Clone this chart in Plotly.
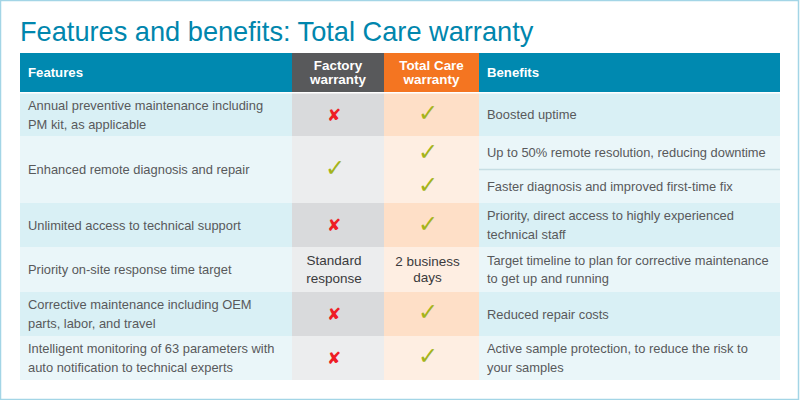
import plotly.graph_objects as go

# table content
title = "Features and benefits: Total Care warranty"
headers = ["Features", "Factory<br>warranty", "Total Care<br>warranty", "Benefits"]
features = [
    "Annual preventive maintenance including<br>PM kit, as applicable",
    "Enhanced remote diagnosis and repair",
    "Unlimited access to technical support",
    "Priority on-site response time target",
    "Corrective maintenance including OEM<br>parts, labor, and travel",
    "Intelligent monitoring of 63 parameters with<br>auto notification to technical experts",
]
factory = ["x", "check", "x", "Standard<br>response", "x", "x"]
total_care = ["check", "check", "check", "2 business<br>days", "check", "check"]
benefits = [
    "Boosted uptime",
    "Up to 50% remote resolution, reducing downtime",
    "Faster diagnosis and improved first-time fix",
    "Priority, direct access to highly experienced<br>technical staff",
    "Target timeline to plan for corrective maintenance<br>to get up and running",
    "Reduced repair costs",
    "Active sample protection, to reduce the risk to<br>your samples",
]

# layout of the table, in page pixels
col_edges = [20, 292, 384, 479, 780]
header_top, header_bottom = 53, 92
row_edges = [93.5, 136, 203, 247, 292, 336, 380]
benefit_split = 169.5
benefit_rows = [(93.5, 136), (136, 169.5), (169.5, 203), (203, 247), (247, 292), (292, 336), (336, 380)]
total_care_marks_y = [115, 154, 187, 226, 314, 358]

BLUE = "#0089B0"
SHADES = {
    "blue": ["#D9F0F5", "#EAF6F9"],
    "grey": ["#D9DADC", "#ECEDEE"],
    "orange": ["#FEDFC7", "#FEEEE2"],
}
TEXT = "#58595B"
DARK_TEXT = "#3A3A3C"
CHECK = "#A4B41C"
CROSS = "#EE1C25"
FONT = "Liberation Sans"
BODY_SIZE = 12.9
BODY_LEADING = 18.7
HEADER_LEADING = 13.6

fig = go.Figure()
shapes = []


def rect(x0, x1, y0, y1, color):
    shapes.append(dict(type="rect", x0=x0, x1=x1, y0=y0, y1=y1, fillcolor=color,
                       line=dict(width=0), layer="below"))


# header cells
for i, color in enumerate([BLUE, "#58595B", "#F47521", BLUE]):
    rect(col_edges[i], col_edges[i + 1], header_top, header_bottom, color)

# body cells, banded
for r in range(len(features)):
    shade = r % 2
    y0, y1 = row_edges[r], row_edges[r + 1]
    for c, name in enumerate(["blue", "grey", "orange", "blue"]):
        rect(col_edges[c], col_edges[c + 1], y0, y1, SHADES[name][shade])

# split between the two benefits of the second row
shapes.append(dict(type="line", x0=col_edges[3], x1=col_edges[4], y0=benefit_split, y1=benefit_split,
                   line=dict(color="#C6DEE4", width=1.5)))
# outer frame
shapes.append(dict(type="rect", x0=0.5, x1=798.5, y0=0.5, y1=399.5,
                   line=dict(color="#A3D5E6", width=1.5), layer="below"))


def add_text(x, y, text, size, color, position, family=FONT, bold=False):
    fig.add_trace(go.Scatter(
        x=x, y=y, text=text, mode="text", textposition=position,
        textfont=dict(size=size, color=color, family=family,
                      weight="bold" if bold else "normal"),
        hoverinfo="skip", showlegend=False,
    ))


def add_lines(x, mid, text, size, color, position, leading, bold=False):
    # plotly's own <br> spacing is too tight here, so each line gets its own point
    lines = text.split("<br>")
    top = mid - leading * (len(lines) - 1) / 2
    add_text([x] * len(lines), [top + i * leading for i in range(len(lines))], lines,
             size, color, position, bold=bold)


row_mid = [(row_edges[i] + row_edges[i + 1]) / 2 for i in range(len(features))]
header_mid = (header_top + header_bottom) / 2 + 1
col_mid = [(col_edges[i] + col_edges[i + 1]) / 2 for i in range(4)]
text_left = col_edges[0] + 8
benefit_left = col_edges[3] + 8

add_lines(text_left, header_mid, headers[0], 13.2, "white", "middle right", HEADER_LEADING, bold=True)
add_lines(benefit_left, header_mid, headers[3], 13.2, "white", "middle right", HEADER_LEADING, bold=True)
add_lines(col_mid[1], header_mid, headers[1], 13.4, "white", "middle center", HEADER_LEADING, bold=True)
add_lines(col_mid[2], header_mid, headers[2], 13.4, "white", "middle center", HEADER_LEADING, bold=True)

for r, text in enumerate(features):
    add_lines(text_left, row_mid[r] + 1.3, text, BODY_SIZE, TEXT, "middle right", BODY_LEADING)
for (y0, y1), text in zip(benefit_rows, benefits):
    add_lines(benefit_left, (y0 + y1) / 2 + 1.3, text, BODY_SIZE, TEXT, "middle right", BODY_LEADING)

# factory column
for r, value in enumerate(factory):
    if value == "x":
        add_text([col_mid[1] - 4], [row_mid[r] + 2], ["✘"], 17, CROSS, "middle center", family="DejaVu Sans")
    elif value == "check":
        add_text([col_mid[1] - 3], [row_mid[r]], ["✓"], 24, CHECK, "middle center", family="DejaVu Sans")
    else:
        add_lines(col_mid[1] - 4, row_mid[r] + 1, value, 13.5, DARK_TEXT, "middle center", BODY_LEADING)

# total care column, second row holds two ticks
add_text([col_mid[2] - 3.5] * 6, total_care_marks_y, ["✓"] * 6, 24, CHECK,
         "middle center", family="DejaVu Sans")
add_lines(col_mid[2] - 4, row_mid[3] + 1, total_care[3], 13.5, DARK_TEXT, "middle center", 16.5)

fig.update_layout(
    title=dict(text=title, x=20 / 800, xanchor="left", y=1 - 31 / 400, yanchor="middle",
               font=dict(size=27.2, color="#0086AD", family=FONT)),
    width=800, height=400,
    margin=dict(l=0, r=0, t=0, b=0),
    paper_bgcolor="white", plot_bgcolor="white",
    xaxis=dict(range=[0, 800], visible=False, fixedrange=True),
    yaxis=dict(range=[400, 0], visible=False, fixedrange=True),
    shapes=shapes,
    showlegend=False,
)

# the browser's default body margin would shift the whole page
fig.write_html("out.html", config=dict(displayModeBar=False),
               post_script="document.body.style.margin='0';document.body.style.overflow='hidden';")
